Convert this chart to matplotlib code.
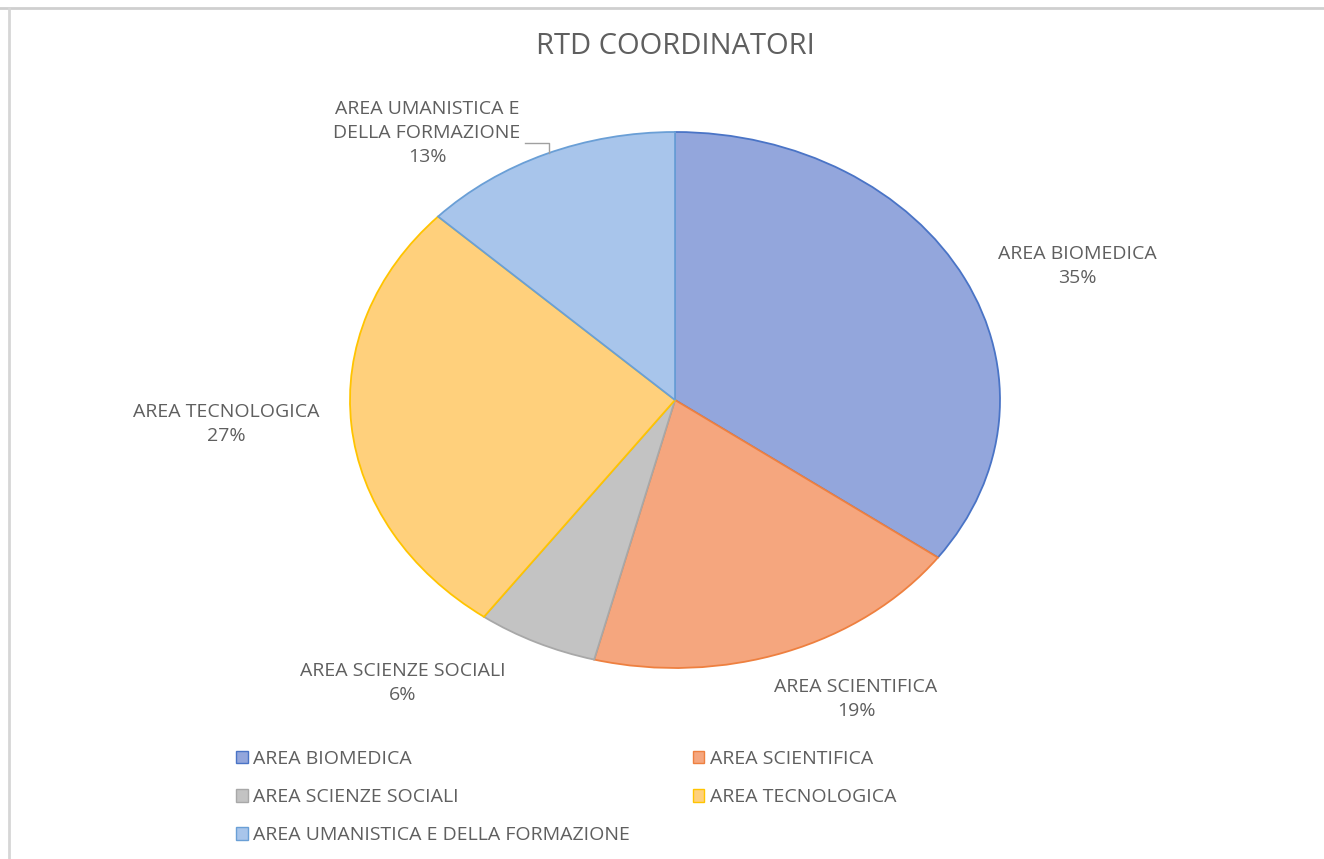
import numpy as np
from matplotlib import pyplot as plt
from matplotlib.patches import Patch

labels = ["AREA BIOMEDICA", "AREA SCIENTIFICA", "AREA SCIENZE SOCIALI",
          "AREA TECNOLOGICA", "AREA UMANISTICA E DELLA FORMAZIONE"]
label_text = ["AREA BIOMEDICA", "AREA SCIENTIFICA", "AREA SCIENZE SOCIALI",
              "AREA TECNOLOGICA", "AREA UMANISTICA E\nDELLA FORMAZIONE"]
shares = [35, 19, 6, 27, 13]

fills = ["#93a6dc", "#f5a67e", "#c3c3c3", "#ffd07c", "#a8c5eb"]
edges = ["#4a74c6", "#ee8040", "#a8a8a8", "#ffc400", "#6a9fd6"]
text_col = "#5f5f5f"

plt.rcParams['font.family'] = ['Open Sans', 'DejaVu Sans']

fig = plt.figure(figsize=(13.24, 8.59), dpi=100)
W, H = 1324, 859

# pie axes: centre (675, 400) px, radii 325 x 268 px -> stretched ellipse
cx, cy, rx, ry = 675, 400, 325, 268
ax = fig.add_axes([(cx - rx) / W, (H - cy - ry) / H, 2 * rx / W, 2 * ry / H])
wedges, _ = ax.pie(shares, colors=fills, startangle=90, counterclock=False,
                   wedgeprops=dict(linewidth=1.3))
for w, e in zip(wedges, edges):
    w.set_edgecolor(e)
ax.set_aspect('auto')
ax.set_xlim(-1, 1)
ax.set_ylim(-1, 1)
ax.axis('off')

# data label positions (pixels in the picture)
lab_pos = [(1077, 266), (856, 699), (403, 683), (226, 424), (427, 133)]
for (px, py), txt, s in zip(lab_pos, label_text, shares):
    ax.text((px - cx) / rx, (cy - py) / ry, "%s\n%d%%" % (txt, s),
            ha='center', va='center', fontsize=14, color=text_col,
            linespacing=1.42, clip_on=False)

# leader line for the umanistica label
lx = [(525 - cx) / rx, (549 - cx) / rx, (549 - cx) / rx]
ly = [(cy - 143) / ry, (cy - 143) / ry, (cy - 153) / ry]
ax.plot(lx, ly, color="#a0a0a0", lw=1, clip_on=False)

fig.text(cx / W, 1 - 46 / H, "RTD COORDINATORI", ha='center', va='center',
         fontsize=21, color=text_col)

# legend in Excel row order, matplotlib fills columns
order = [0, 2, 4, 1, 3]
handles = [Patch(facecolor=fills[i], edgecolor=edges[i], lw=1) for i in order]
fig.legend(handles, [labels[i] for i in order], ncol=2,
           loc='upper left', bbox_to_anchor=(236 / W, 1 - 750 / H),
           frameon=False, fontsize=14, labelcolor=text_col,
           handlelength=0.6, handleheight=0.6, handletextpad=0.3,
           columnspacing=3.2, labelspacing=1.04, borderaxespad=0, borderpad=0)

# chart frame (top and left edges visible)
fig.add_artist(plt.Line2D([0, 1], [1 - 7.5 / H] * 2, color="#cfcfcf", lw=2))
fig.add_artist(plt.Line2D([9 / W] * 2, [0, 1 - 7.5 / H], color="#d6d6d6", lw=2))

fig.savefig("out.png", dpi=100, facecolor="white")
